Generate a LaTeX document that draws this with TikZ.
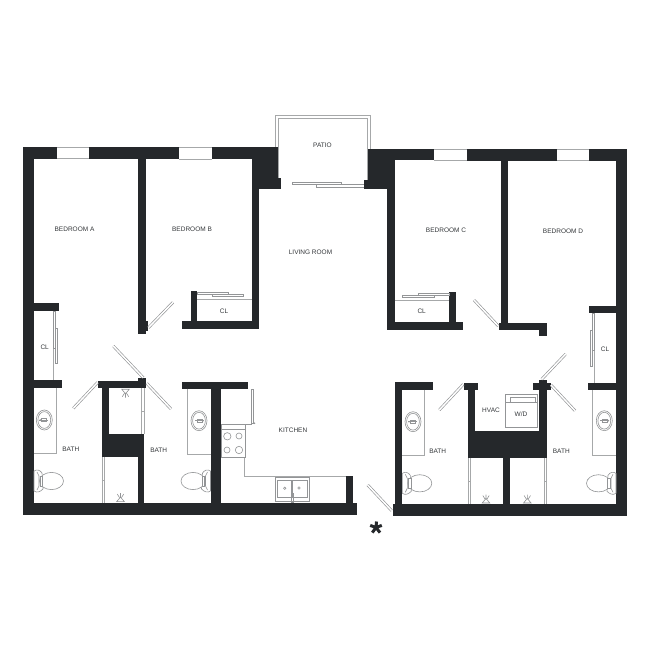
\documentclass[tikz,border=0pt]{standalone}
\usepackage{fontspec}
\setmainfont{Liberation Sans}
\definecolor{wallc}{HTML}{25282B}
\definecolor{linec}{HTML}{A6A8A9}
\definecolor{fixc}{HTML}{939597}
\definecolor{textc}{HTML}{35383B}
\tikzset{
  wallfill/.style={fill=wallc,draw=none},
  thinline/.style={draw=linec,line width=0.75pt},
  fixture/.style={draw=fixc,line width=0.6pt,fill=white},
  fixopen/.style={draw=fixc,line width=0.6pt},
  roomlabel/.style={font=\fontsize{6.5}{7}\selectfont,text=textc,inner sep=0pt},
  leaf/.style={draw=fixc,line width=0.6pt,fill=white}
}
\newcommand{\wallrect}[4]{\fill[wallfill] (#1,#2) rectangle (#3,#4);}
\newcommand{\doorleaf}[4]{%
  \draw[draw=fixc,line width=2.8pt] (#1,#2) -- (#3,#4);
  \draw[draw=white,line width=1.5pt] (#1,#2) -- (#3,#4);}
\newcommand{\toiletfix}[3]{% wall x, centre y, direction
  \begin{scope}[shift={(#1,#2)},xscale=#3]
    \draw[fixture] (0,-10) .. controls (3,-12) and (6,-11) .. (8,-8) -- (9,8) .. controls (6,11) and (3,12) .. (0,10) -- cycle;
    \draw[fixopen] (3,-9) -- (5,-5) -- (5,5) -- (3,9);
    \draw[fixture] (17.5,0) ellipse [x radius=12,y radius=8.6];
    \draw[fixture] (6,-5) rectangle (8.5,5);
  \end{scope}}
\newcommand{\sinkfix}[3]{% centre x, centre y, direction
  \begin{scope}[shift={(#1,#2)},xscale=#3]
    \draw[fixture] (0,0) ellipse [x radius=8,y radius=10];
    \draw[fixopen] (0,0) ellipse [x radius=6.4,y radius=8.4];
    \draw[fixopen] (-5,0) -- (4,0);
    \draw[fixopen] (-3,-1.6) rectangle (2,1.6);
    \fill[fixc] (-4,0) circle (0.9);
  \end{scope}}
\newcommand{\showerfix}[3]{% x, wall y, direction
  \begin{scope}[shift={(#1,#2)},yscale=#3]
    \draw[fixopen] (-3.8,1) -- (3.8,1) -- (0,5.5) -- cycle;
    \draw[fixopen] (0,5) -- (0,9.5) (-1,5) -- (-3.2,8.5) (1,5) -- (3.2,8.5);
  \end{scope}}
\begin{document}
\begin{tikzpicture}[x=1pt,y=-1pt]
\useasboundingbox (0,0) rectangle (650,650);
\fill[white] (0,0) rectangle (650,650);

% patio
\draw[thinline] (275,148) -- (275,115.7) -- (370,115.7) -- (370,149);
\draw[thinline] (278,178) -- (278,118.7) -- (367.7,118.7) -- (367.7,180);
\draw[leaf] (316.7,184.7) rectangle (364.3,187.3);
\draw[leaf] (292.7,181.9) rectangle (341,184.7);

% window frames
\foreach \xa/\xb/\ya/\yb in {56.7/89/147.6/158.4,179.3/211.7/147.8/158.9,434.3/466.7/149.4/160.4,556.7/589.3/149.4/160.4}{
  \draw[thinline] (\xa,\ya) -- (\xb,\ya) (\xa,\yb) -- (\xb,\yb);
}

% left unit outer walls
\wallrect{23}{147.3}{56.7}{158.7}
\wallrect{89}{147.3}{179.3}{159.2}
\wallrect{211.7}{147.3}{278}{159.2}
\wallrect{23}{147.3}{34}{513.5}
\wallrect{23}{502.6}{356.7}{514.7}
% bedroom A/B partition
\wallrect{138.2}{158}{145.7}{334.3}
\wallrect{145}{321}{148.3}{330.5}
% chunk at patio
\wallrect{251.7}{159}{278}{189.2}
\wallrect{270}{177.7}{281.3}{189.2}
\wallrect{251.7}{189}{259.3}{329}
% closet B
\wallrect{191}{291}{197.3}{329}
\wallrect{182.3}{321.3}{259.3}{329}
% closet A
\wallrect{34}{303.3}{59.3}{311}
\wallrect{34}{380.3}{62.3}{388}
% middle block, left unit
\wallrect{97.7}{381}{146}{388.2}
\wallrect{138}{378}{146}{382}
\wallrect{101.7}{388}{109.3}{457}
\wallrect{101.7}{434.3}{144.3}{456.9}
\wallrect{137.7}{434.3}{144.3}{503}
% bath/kitchen
\wallrect{182.3}{381.6}{247.7}{388.8}
\wallrect{210.5}{388}{221.2}{503}
\wallrect{346}{475.7}{353.3}{503}

% right unit outer walls
\wallrect{367.7}{149}{434.3}{160.4}
\wallrect{466.7}{149.2}{556.7}{160.6}
\wallrect{589.3}{149.2}{627}{160.6}
\wallrect{616}{149.2}{627}{516}
\wallrect{392.7}{504}{627}{516}
\wallrect{367.7}{149}{394.7}{189.3}
\wallrect{364.3}{180}{387.3}{189.3}
\wallrect{387.3}{189}{394.7}{329.5}
% bedroom C/D partition
\wallrect{501}{160}{508.3}{330}
\wallrect{499}{322.7}{546.7}{330}
\wallrect{539.3}{329}{546.7}{336.3}
% closet C
\wallrect{449}{291.7}{456.3}{330}
\wallrect{387.3}{322}{462.7}{329.7}
% closet D
\wallrect{589}{305.7}{616}{313.3}
\wallrect{587.7}{382.7}{616}{390.3}
% left bath of right unit
\wallrect{395.3}{382}{402.3}{505}
\wallrect{395.3}{382}{432.7}{389.8}
% HVAC block
\wallrect{463.7}{382.7}{478.3}{390.3}
\wallrect{467.7}{390}{474.7}{458}
\wallrect{467.7}{431.3}{546.7}{458}
\wallrect{539.3}{380}{546.7}{432}
\wallrect{532.7}{382.7}{550.7}{390.3}
\wallrect{502.7}{457}{510}{505}

% closet lines and sliding doors
\draw[thinline] (197.3,299.3) -- (251.7,299.3);
\draw[leaf] (212.3,294.4) rectangle (243.3,296.2);
\draw[leaf] (197.3,292.6) rectangle (228,294.4);
\draw[thinline] (394.7,300) -- (449,300);
\draw[leaf] (402.3,295.4) rectangle (434,297.2);
\draw[leaf] (418,293.6) rectangle (449,295.4);
\draw[thinline] (53.6,311) -- (53.6,380.3);
\draw[leaf] (53.6,311) rectangle (55.6,348);
\draw[leaf] (55.6,328) rectangle (57.6,363.5);
\draw[thinline] (594.2,313.3) -- (594.2,382.7);
\draw[leaf] (592.2,313.3) rectangle (594.2,350);
\draw[leaf] (590.2,330) rectangle (592.2,366);

% shower doors
\draw[thinline] (141.7,388) -- (141.7,434.3) (144.3,388) -- (144.3,434.3) (141.7,411) -- (144.3,411);
\draw[thinline] (101.9,457) -- (101.9,502.6) (104.7,457) -- (104.7,502.6) (101.9,480) -- (104.7,480);
\draw[thinline] (468,458) -- (468,504) (470.5,458) -- (470.5,504) (468,481) -- (470.5,481);
\draw[thinline] (544.2,458) -- (544.2,504) (546.7,458) -- (546.7,504) (544.2,481) -- (546.7,481);

% swing doors
\doorleaf{148.4}{327.7}{173}{302.3}
\doorleaf{97.7}{382.3}{73.3}{408.3}
\doorleaf{143.3}{377.7}{113.3}{346}
\doorleaf{146.7}{383.3}{171}{409}
\doorleaf{391.7}{510.7}{367.7}{485}
\doorleaf{474}{300}{498.3}{326}
\doorleaf{463.3}{384.3}{439.3}{410}
\doorleaf{541.7}{379.3}{565.7}{354}
\doorleaf{551}{385}{575}{410.7}

% vanities
\draw[thinline] (56.3,388) -- (56.3,453.7) -- (34,453.7);
\draw[thinline] (187.3,388.5) -- (187.3,454.3) -- (210.5,454.3);
\draw[thinline] (424.7,389.8) -- (424.7,455.3) -- (402.3,455.3);
\draw[thinline] (592.7,390.3) -- (592.7,455.7) -- (616,455.7);
\sinkfix{44.3}{420}{1}
\sinkfix{199}{420.7}{-1}
\sinkfix{413}{421.7}{1}
\sinkfix{604.3}{420.7}{-1}
\toiletfix{34}{481}{1}
\toiletfix{210.5}{481}{-1}
\toiletfix{402.3}{483.3}{1}
\toiletfix{616}{483.3}{-1}

% shower heads
\showerfix{125.5}{388.2}{1}
\showerfix{120.5}{502.6}{-1}
\showerfix{486}{504}{-1}
\showerfix{527.3}{504}{-1}

% kitchen
\draw[fixopen] (221.2,424.3) -- (251.7,424.3) -- (251.7,388.8);
\draw[fixture] (251.7,389.5) rectangle (253.6,423);
\fill[fixc] (254.5,423.2) circle (0.8);
\draw[thinline] (244,457.3) -- (244,476.2) -- (346,476.2);
\draw[fixopen] (245,424.3) -- (245,429.3) (221.7,424.3) -- (221.7,429.3);
\draw[fixture] (221.7,429.3) rectangle (245,457.3);
\draw[fixopen] (227.3,436.3) circle (3.7);
\draw[fixopen] (239,436) circle (3);
\draw[fixopen] (227,450) circle (3);
\draw[fixopen] (239,450) circle (3.7);
\draw[fixture] (275,477.3) rectangle (309.3,501.7);
\draw[fixopen] (277.7,480) rectangle (291.7,497.3);
\draw[fixopen] (292.3,480) rectangle (307.3,497.3);
\draw[fixopen] (284.7,488.3) circle (1.2);
\draw[fixopen] (299,488) circle (1.2);
\draw[fixopen] (291,493) rectangle (293.2,502.6);

% washer/dryer
\draw[fixture] (505.7,394.3) rectangle (537.5,427.3);
\draw[fixopen] (505.7,402.3) -- (537.5,402.3);
\draw[fixopen] (510.7,402.3) -- (510.7,397.3) -- (535,397.3) -- (535,402.3);

% entry star
\draw[wallc,line width=3pt] (376,527.5) -- (376.5,521.5)
  (376,527.5) -- (381.8,525.4) (376,527.5) -- (380,532.6)
  (376,527.5) -- (372.3,532.6) (376,527.5) -- (370.2,525.4);

% labels
\node[roomlabel] (patio) at (322.5,145.7) {PATIO};
\node[roomlabel] (living) at (310.5,252.7) {LIVING ROOM};
\node[roomlabel] (kitchen) at (293,430.7) {KITCHEN};
\node[roomlabel] (bra) at (74.5,229.2) {BEDROOM A};
\node[roomlabel] (brb) at (192,229.7) {BEDROOM B};
\node[roomlabel] (brc) at (446,230.7) {BEDROOM C};
\node[roomlabel] (brd) at (563,231.3) {BEDROOM D};
\node[roomlabel] (cla) at (44.7,347.3) {CL};
\node[roomlabel] (clb) at (224,311) {CL};
\node[roomlabel] (clc) at (421.7,311.7) {CL};
\node[roomlabel] (cld) at (605,349.3) {CL};
\node[roomlabel] (batha) at (70.8,449.7) {BATH};
\node[roomlabel] (bathb) at (158.7,450) {BATH};
\node[roomlabel] (bathc) at (437.7,451) {BATH};
\node[roomlabel] (bathd) at (561.3,451.7) {BATH};
\node[roomlabel] (hvac) at (491,410.7) {HVAC};
\node[roomlabel] (wd) at (521,414.3) {W/D};
\end{tikzpicture}
\end{document}
